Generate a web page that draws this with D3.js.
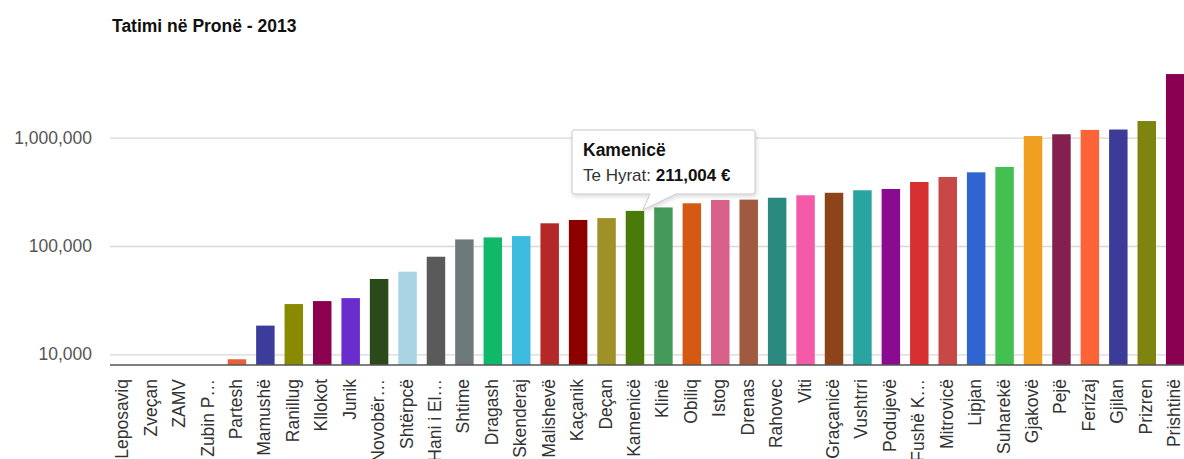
<!DOCTYPE html>
<html><head><meta charset="utf-8">
<script src="https://cdn.jsdelivr.net/npm/d3@7"></script>
<style>body{margin:0;background:#fff;overflow:hidden}svg{display:block;font-family:Arial,"Liberation Sans",sans-serif}</style>
</head><body><svg id="c" width="1184" height="459"></svg>
<script>
const title = "Tatimi në Pronë - 2013";
const categories = ["Leposaviq","Zveçan","ZAMV","Zubin P…","Partesh","Mamushë","Ranillug","Kllokot","Junik","Novobër…","Shtërpcë","Hani i El…","Shtime","Dragash","Skenderaj","Malishevë","Kaçanik","Deçan","Kamenicë","Klinë","Obiliq","Istog","Drenas","Rahovec","Viti","Graçanicë","Vushtrri","Podujevë","Fushë K…","Mitrovicë","Lipjan","Suharekë","Gjakovë","Pejë","Ferizaj","Gjilan","Prizren","Prishtinë"];
const values = [0,0,0,0,9000,18400,29100,31000,33000,49600,57900,79600,115000,120000,123500,162000,174000,181000,211004,227000,248000,266000,268000,279000,294000,310000,327000,336000,390000,434000,479000,537000,1037000,1076000,1180000,1190000,1425000,3870000];
const colors = ["#888","#888","#888","#888","#e8603c","#3c3c9c","#8a8a00","#8c0050","#6a2ccc","#2a4a1a","#a8d4e4","#5a5a5a","#6e7a7a","#12b86a","#3ebce0","#b42828","#8c0000","#a09028","#4a7a0a","#449a58","#d45a14","#d8608a","#a05a40","#2a8a80","#f45aa8","#8c4418","#2aa4a0","#8a0a90","#d83030","#c84848","#3064d0","#44c050","#f0a020","#842050","#fc6438","#3c3c98","#7e8410","#8a0050"];
const yTicks = [10000,100000,1000000];
const tooltip = {category:"Kamenicë", label:"Te Hyrat: ", value:"211,004 €"};

const svg = d3.select("#c");
const x = d3.scaleBand().domain(categories).range([109,1189.4]).paddingInner(0.35).paddingOuter(0.175);
const y = d3.scaleLog().domain([1e4,1e6]).range([354.3,137.7]);
const base = 365;

svg.append("text").attr("x",112).attr("y",32).attr("font-size",17.5).attr("font-weight","bold").attr("fill","#111").text(title);

const yAxis = d3.axisLeft(y).tickValues(yTicks).tickFormat(d3.format(",")).tickSize(-1080).tickPadding(17);
const ga = svg.append("g").attr("transform","translate(110,0)").call(yAxis);
ga.select(".domain").remove();
ga.selectAll(".tick line").attr("stroke","#d8d8d8").attr("stroke-width",1.3);
ga.selectAll(".tick text").attr("font-size",17.5).attr("fill","#555").attr("font-family","Arial,'Liberation Sans',sans-serif").attr("x",-18);

svg.append("g").selectAll("rect").data(categories.map((c,i)=>({c,v:values[i],col:colors[i]})).filter(d=>d.v>0))
  .join("rect")
  .attr("x",d=>x(d.c)).attr("width",x.bandwidth())
  .attr("y",d=>y(d.v)).attr("height",d=>base-y(d.v))
  .attr("fill",d=>d.col);

svg.append("line").attr("x1",110).attr("x2",1184).attr("y1",base).attr("y2",base).attr("stroke","#555").attr("stroke-width",1.3);

const xAxis = d3.axisBottom(x).tickSize(0).tickPadding(0);
const gx = svg.append("g").attr("transform",`translate(0,${base})`).call(xAxis);
gx.select(".domain").remove();
gx.selectAll(".tick text").attr("font-size",17.5).attr("fill","#333").attr("font-family","Arial,'Liberation Sans',sans-serif")
  .attr("text-anchor","end").attr("dy",null).attr("y",0).attr("x",0)
  .attr("transform","translate(5,14) rotate(-90)");

// tooltip
const tc = x(tooltip.category)+x.bandwidth()/2;
const tv = values[categories.indexOf(tooltip.category)];
const ty = y(tv);
const bx=572, by=130, bw=183, bh=64;
const tg = svg.append("g");
const defs = svg.append("defs");
const f = defs.append("filter").attr("id","sh").attr("x","-10%").attr("y","-10%").attr("width","130%").attr("height","140%");
f.append("feDropShadow").attr("dx",1).attr("dy",2).attr("stdDeviation",2).attr("flood-color","#000").attr("flood-opacity",0.15);
tg.append("path").attr("filter","url(#sh)")
  .attr("d",`M${bx+2},${by} H${bx+bw-2} Q${bx+bw},${by} ${bx+bw},${by+2} V${by+bh-2} Q${bx+bw},${by+bh} ${bx+bw-2},${by+bh} H${bx+104} L${tc+8},${ty-1} L${bx+78},${by+bh} H${bx+2} Q${bx},${by+bh} ${bx},${by+bh-2} V${by+2} Q${bx},${by} ${bx+2},${by} Z`)
  .attr("fill","#fff").attr("stroke","#c8c8c8").attr("stroke-width",1);
tg.append("text").attr("x",bx+11).attr("y",by+26).attr("font-size",17.5).attr("font-weight","bold").attr("fill","#111").text(tooltip.category);
const t2 = tg.append("text").attr("x",bx+11).attr("y",by+51).attr("font-size",17).attr("fill","#333");
t2.append("tspan").text(tooltip.label);
t2.append("tspan").attr("font-weight","bold").attr("fill","#111").text(tooltip.value);
</script></body></html>
